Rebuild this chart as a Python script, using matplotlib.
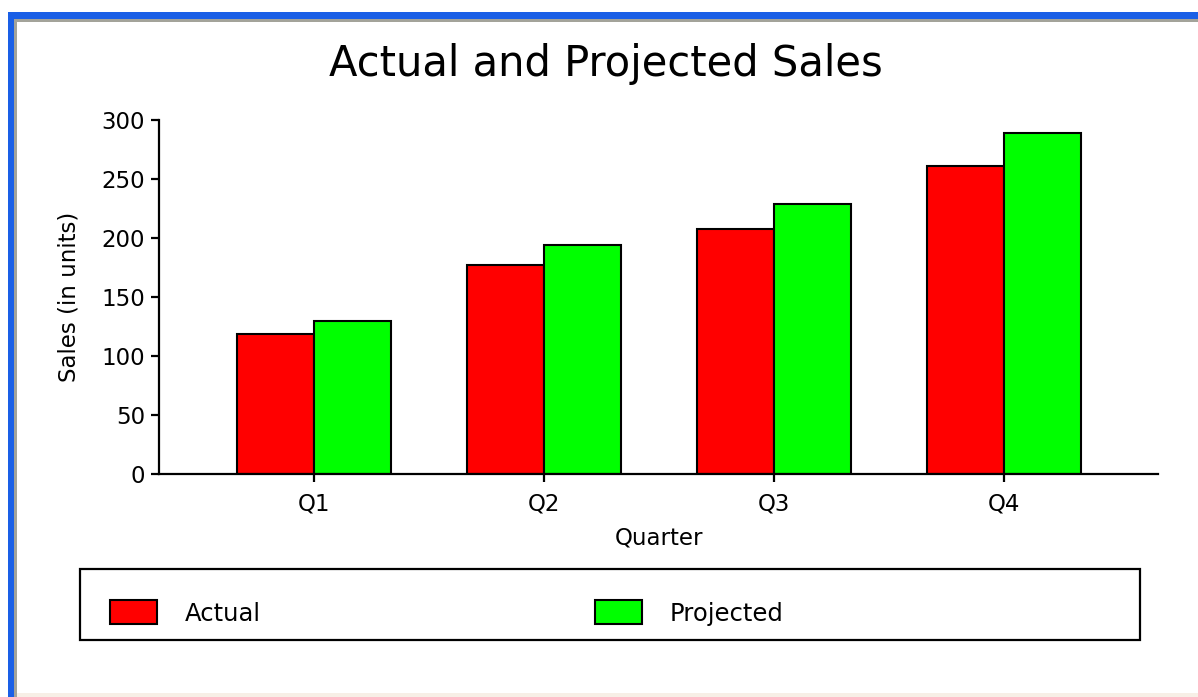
import matplotlib
matplotlib.use("Agg")
import matplotlib.pyplot as plt
import numpy as np
from matplotlib.patches import Rectangle

quarters = ["Q1", "Q2", "Q3", "Q4"]
actual = [119, 177, 208, 261]
projected = [130, 194, 229, 289]
y_ticks = [0, 50, 100, 150, 200, 250, 300]

W, H = 1198, 697
plt.rcParams['font.family'] = ['DejaVu Sans']

fig = plt.figure(figsize=(W / 100, H / 100), dpi=100)
fig.patch.set_facecolor('white')


def fx(px):
    return px / W


def fy(py):
    return 1 - py / H


# window frame (blue edges, grey inner line)
fig.patches.append(Rectangle((fx(8), 0), fx(6), fy(12), transform=fig.transFigure,
                             facecolor='#1a5fe6', edgecolor='none', zorder=0))
fig.patches.append(Rectangle((fx(8), fy(19)), 1, fy(12) - fy(19), transform=fig.transFigure,
                             facecolor='#1a5fe6', edgecolor='none', zorder=0))
fig.patches.append(Rectangle((fx(14), 0), fx(3), fy(19), transform=fig.transFigure,
                             facecolor='#a3a39a', edgecolor='none', zorder=0))
fig.patches.append(Rectangle((fx(14), fy(22)), 1, fy(19) - fy(22), transform=fig.transFigure,
                             facecolor='#a3a39a', edgecolor='none', zorder=0))
fig.patches.append(Rectangle((fx(17), 0), 1, fy(693), transform=fig.transFigure,
                             facecolor='#f7efe6', edgecolor='none', zorder=0))

ax = fig.add_axes([fx(159), fy(474), fx(1158) - fx(159), fy(120) - fy(474)])
ax.set_facecolor('none')

x = np.arange(len(quarters))
w = 0.335
b1 = ax.bar(x - w / 2, actual, w, color='#ff0000', edgecolor='black', linewidth=1.5, label='Actual')
b2 = ax.bar(x + w / 2, projected, w, color='#00ff00', edgecolor='black', linewidth=1.5, label='Projected')

ax.set_xlim(-0.674, 3.67)
ax.set_ylim(0, 300)
ax.set_yticks(y_ticks)
ax.set_xticks(x)
ax.set_xticklabels(quarters)
for s in ['top', 'right']:
    ax.spines[s].set_visible(False)
for s in ['left', 'bottom']:
    ax.spines[s].set_linewidth(1.6)
ax.tick_params(axis='both', length=6, width=1.6, labelsize=16.5, color='black')
ax.tick_params(axis='x', pad=7)
ax.tick_params(axis='y', pad=4)

ax.set_xlabel('Quarter', fontsize=16.5, labelpad=8)
ax.set_ylabel('Sales (in units)', fontsize=16.5, labelpad=15)
fig.text(fx(606), fy(64), 'Actual and Projected Sales', fontsize=30, ha='center', va='center')

# legend box
fig.patches.append(Rectangle((fx(80), fy(640)), fx(1140) - fx(80), fy(569) - fy(640),
                             transform=fig.transFigure, facecolor='white',
                             edgecolor='black', linewidth=1.6, zorder=1))
lfs = 17.5
fs = lfs * 100 / 72
fig.legend(handles=[b1, b2], loc='center left', bbox_to_anchor=(fx(110), fy(613)),
           ncol=2, frameon=False, fontsize=lfs, borderpad=0, borderaxespad=0,
           handlelength=47 / fs, handleheight=27 / fs, handletextpad=28 / fs,
           columnspacing=334 / fs)

fig.savefig('out.png', dpi=100)
